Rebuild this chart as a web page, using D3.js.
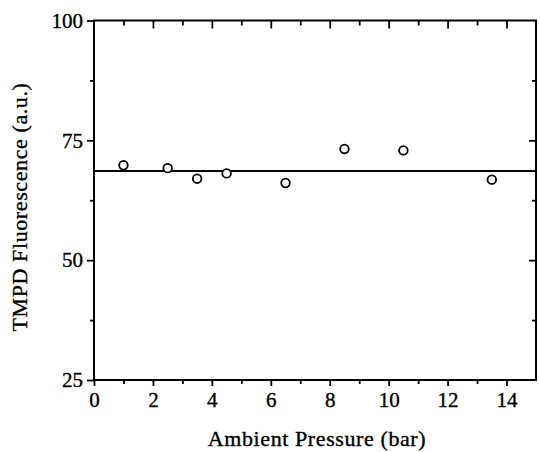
<!DOCTYPE html>
<html>
<head>
<meta charset="utf-8">
<script src="https://cdn.jsdelivr.net/npm/d3@7"></script>
<style>
  body { margin: 0; background: #fff; }
  svg { display: block; }
  text { font-family: "Liberation Serif", "Times New Roman", serif; fill: #000; stroke: #000; stroke-width: 0.35px; }
</style>
</head>
<body>
<div id="chart"></div>
<script>
const pressure = [1, 2.5, 3.5, 4.5, 6.5, 8.5, 10.5, 13.5];
const fluorescence = [69.8, 69.2, 67.0, 68.1, 66.1, 73.2, 72.9, 66.8];
const meanLevel = 68.6;
const xTicks = [0, 2, 4, 6, 8, 10, 12, 14];
const yTicks = [25, 50, 75, 100];

const width = 540, height = 452;
const margin = { top: 20.5, right: 4, bottom: 72, left: 94 };

const svg = d3.select('#chart').append('svg')
  .attr('width', width)
  .attr('height', height);

const x = d3.scaleLinear().domain([0, 15]).range([margin.left, width - margin.right]);
const y = d3.scaleLinear().domain([25, 100]).range([height - margin.bottom, margin.top]);

const x0 = x(0), x1 = x(15), y0 = y(25), y1 = y(100);

// frame
svg.append('rect')
  .attr('x', x0).attr('y', y1)
  .attr('width', x1 - x0).attr('height', y0 - y1)
  .attr('fill', 'none')
  .attr('stroke', '#000')
  .attr('stroke-width', 2);

const minorX = d3.range(1, 15, 2);
const minorY = d3.range(37.5, 100, 25);

// bottom axis: ticks outward
const bottom = svg.append('g')
  .attr('transform', `translate(0,${y0})`)
  .call(d3.axisBottom(x).tickValues(xTicks).tickSize(6).tickFormat(d3.format('d')));
svg.append('g')
  .attr('transform', `translate(0,${y0})`)
  .call(d3.axisBottom(x).tickValues(minorX).tickSize(4).tickFormat(''));

// top axis: ticks inward
svg.append('g')
  .attr('transform', `translate(0,${y1})`)
  .call(d3.axisBottom(x).tickValues(xTicks.slice(1)).tickSize(8).tickFormat(''));
svg.append('g')
  .attr('transform', `translate(0,${y1})`)
  .call(d3.axisBottom(x).tickValues(minorX).tickSize(5).tickFormat(''));

// left axis: ticks outward
svg.append('g')
  .attr('transform', `translate(${x0},0)`)
  .call(d3.axisLeft(y).tickValues(yTicks).tickSize(7).tickPadding(4));
svg.append('g')
  .attr('transform', `translate(${x0},0)`)
  .call(d3.axisLeft(y).tickValues(minorY).tickSize(4).tickFormat(''));

// right axis: ticks inward
svg.append('g')
  .attr('transform', `translate(${x1},0)`)
  .call(d3.axisLeft(y).tickValues(yTicks.slice(1, 3)).tickSize(7).tickFormat(''));
svg.append('g')
  .attr('transform', `translate(${x1},0)`)
  .call(d3.axisLeft(y).tickValues(minorY).tickSize(4).tickFormat(''));

svg.selectAll('.domain').remove();
svg.selectAll('.tick line').attr('stroke', '#000').attr('stroke-width', 1.8);
svg.selectAll('.tick text')
  .style('font-size', '21px')
  .attr('fill', '#000');
bottom.selectAll('.tick text').attr('dy', '0.88em');

// fitted mean line
svg.append('line')
  .attr('x1', x0).attr('x2', x1)
  .attr('y1', y(meanLevel)).attr('y2', y(meanLevel))
  .attr('stroke', '#000')
  .attr('stroke-width', 2);

// data points
svg.append('g')
  .selectAll('circle')
  .data(pressure)
  .join('circle')
  .attr('cx', d => x(d))
  .attr('cy', (d, i) => y(fluorescence[i]))
  .attr('r', 4.3)
  .attr('fill', '#fff')
  .attr('stroke', '#000')
  .attr('stroke-width', 1.8);

// axis titles
svg.append('text')
  .attr('x', 317)
  .attr('y', 446)
  .attr('text-anchor', 'middle')
  .style('font-size', '22px')
  .style('letter-spacing', '0.6px')
  .text('Ambient Pressure (bar)');

svg.append('text')
  .attr('transform', `translate(27,207) rotate(-90)`)
  .attr('text-anchor', 'middle')
  .style('font-size', '22px')
  .style('letter-spacing', '0.6px')
  .text('TMPD Fluorescence (a.u.)');
</script>
</body>
</html>
